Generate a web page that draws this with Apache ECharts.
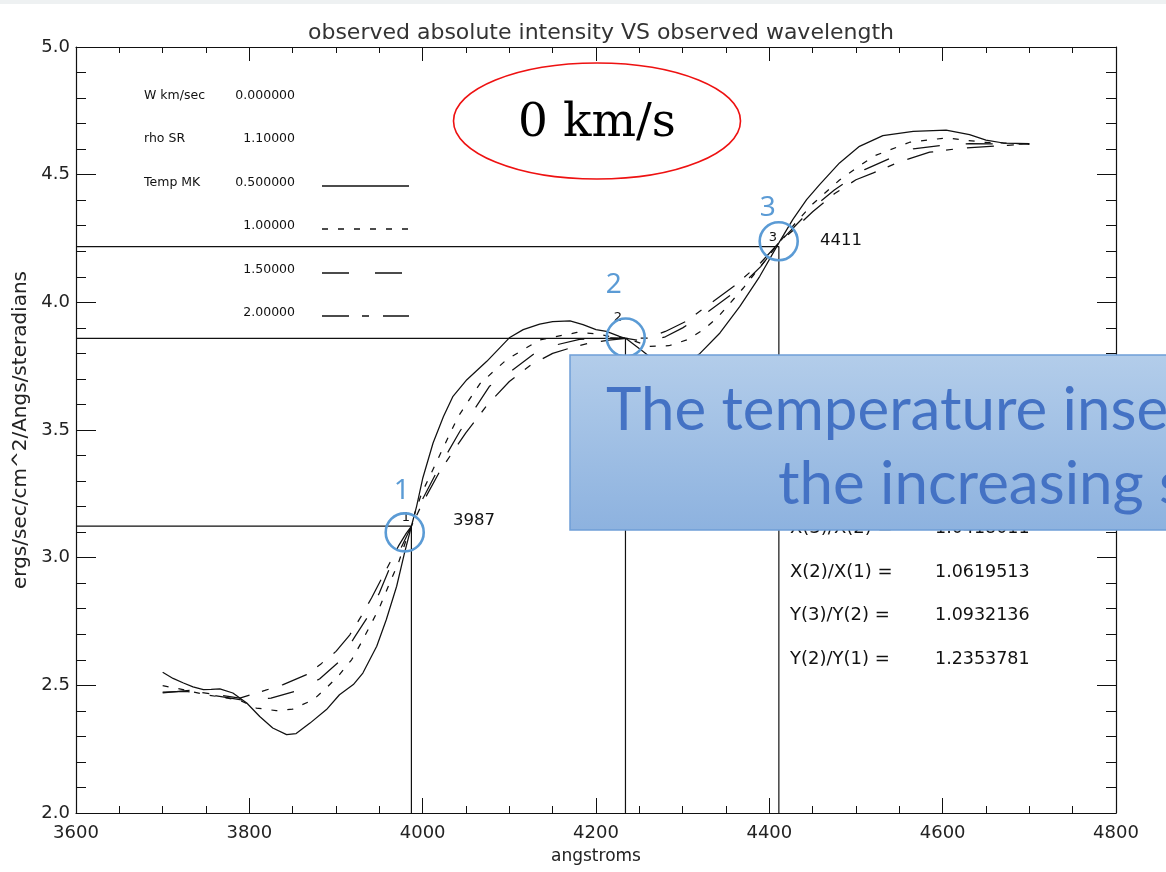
<!DOCTYPE html>
<html><head><meta charset="utf-8">
<script src="https://cdn.jsdelivr.net/npm/echarts@6/dist/echarts.min.js"></script>
<style>html,body{margin:0;padding:0;background:#fff}#c{width:1166px;height:872px}</style>
</head><body><div id="c"></div>
<script>
// ---- data ----
const xT05 = [3700,3712,3724,3735,3747,3756,3766,3781,3797,3812,3827,3843,3854,3870,3889,3904,3920,3931,3947,3958,3970,3979,3987,3993,4000,4012,4024,4035,4051,4074,4100,4116,4135,4150,4170,4185,4200,4212,4227,4235,4254,4270,4288,4305,4320,4343,4366,4389,4411,4427,4443,4458,4481,4504,4531,4566,4604,4631,4650,4670,4700];
const yT05 = [2.551,2.527,2.509,2.494,2.483,2.484,2.486,2.470,2.431,2.378,2.333,2.307,2.311,2.352,2.405,2.463,2.503,2.548,2.653,2.757,2.888,3.018,3.123,3.201,3.310,3.449,3.553,3.632,3.697,3.769,3.861,3.893,3.915,3.924,3.927,3.913,3.893,3.886,3.867,3.857,3.808,3.765,3.745,3.762,3.800,3.880,3.984,4.102,4.233,4.324,4.402,4.461,4.546,4.611,4.653,4.670,4.674,4.657,4.635,4.624,4.622];

const xT10 = [3700,3725,3750,3775,3790,3808,3831,3850,3874,3889,3904,3918,3929,3939,3950,3962,3972,3981,3987,3991,3999,4022,4041,4066,4097,4135,4178,4200,4220,4235,4262,4284,4305,4324,4340,4355,4370,4382,4396,4411,4430,4450,4481,4520,4562,4604,4647,4681,4700];
const yT10 = [2.499,2.482,2.463,2.450,2.440,2.411,2.401,2.407,2.444,2.490,2.542,2.600,2.666,2.731,2.803,2.901,2.979,3.070,3.123,3.175,3.253,3.418,3.553,3.681,3.776,3.853,3.882,3.877,3.864,3.859,3.828,3.830,3.853,3.893,3.940,3.998,4.056,4.108,4.167,4.233,4.310,4.385,4.479,4.572,4.627,4.644,4.627,4.622,4.622];

const xT15 = [3700,3727,3762,3789,3800,3825,3852,3881,3904,3922,3937,3950,3962,3974,3987,4000,4020,4043,4077,4100,4129,4150,4181,4210,4235,4260,4280,4300,4330,4360,4390,4411,4430,4450,4475,4510,4540,4566,4600,4631,4660,4700];
const yT15 = [2.473,2.476,2.459,2.444,2.441,2.450,2.476,2.525,2.594,2.692,2.770,2.862,2.960,3.031,3.123,3.230,3.360,3.495,3.671,3.725,3.800,3.830,3.855,3.862,3.859,3.845,3.865,3.900,3.965,4.040,4.140,4.233,4.300,4.370,4.440,4.520,4.565,4.601,4.615,4.622,4.620,4.620];

const xT20 = [3700,3731,3762,3789,3818,3839,3866,3883,3900,3916,3929,3941,3952,3962,3972,3981,3987,4000,4020,4050,4075,4100,4125,4150,4170,4193,4215,4235,4260,4280,4304,4330,4360,4390,4411,4430,4450,4475,4500,4520,4550,4585,4620,4646,4675,4700];
const yT20 = [2.470,2.480,2.463,2.450,2.480,2.503,2.542,2.585,2.633,2.698,2.770,2.842,2.914,2.979,3.045,3.095,3.123,3.215,3.340,3.490,3.600,3.690,3.755,3.800,3.821,3.841,3.852,3.859,3.860,3.886,3.926,3.990,4.065,4.155,4.233,4.290,4.355,4.425,4.480,4.507,4.550,4.588,4.603,4.609,4.615,4.620];

// marked points X(i), Y(i)
const pointX = [3987, 4234, 4411];
const pointY = [3.1235, 3.8587, 4.2184];
const pointLabels = ['1', '2', '3'];
const circleX = [3979.3, 4234.3, 4410.8];
const circleY = [3.099, 3.862, 4.239];

const xTicks = [3600, 3800, 4000, 4200, 4400, 4600, 4800];
const yTicks = [2.0, 2.5, 3.0, 3.5, 4.0, 4.5, 5.0];

const legendParams = [['W km/sec','0.000000'],['rho SR','1.10000'],['Temp MK','0.500000'],['','1.00000'],['','1.50000'],['','2.00000']];
const ratioNames = ['X(3)/X(2) =','X(2)/X(1) =','Y(3)/Y(2) =','Y(2)/Y(1) ='];
const ratioValues = ['1.0418011','1.0619513','1.0932136','1.2353781'];

// ---- build ----
const zip = (xs, ys) => xs.map((x, i) => [x, ys[i]]);
const INK = '#111';
const FONT = 'DejaVu Sans';

function curve(name, xs, ys, type) {
  return { name, type: 'line', data: zip(xs, ys), showSymbol: false, symbol: 'none',
    lineStyle: { color: INK, width: 1.25, type }, z: 3, silent: true };
}
function guide(i) {
  return { type: 'line', data: [[xTicks[0], pointY[i]], [pointX[i], pointY[i]], [pointX[i], yTicks[0]]],
    showSymbol: false, symbol: 'none', lineStyle: { color: INK, width: 1.2 }, z: 2, silent: true };
}

const labelOffsets = [[-3, -41], [-12, -53], [-11, -33]];
const circleSeries = {
  type: 'scatter', symbol: 'circle', symbolSize: 38, z: 6, silent: true,
  data: circleX.map((x, i) => ({ value: [x, circleY[i]],
    label: { show: true, formatter: pointLabels[i], position: 'inside', offset: labelOffsets[i],
      color: '#5b9bd5', fontSize: 28, fontFamily: 'Noto Sans', textBorderWidth: 0 } })),
  itemStyle: { color: 'rgba(0,0,0,0)', borderColor: '#5b9bd5', borderWidth: 2.6, opacity: 1 }
};

const dashes = [null, 'solid', [6, 10], [27, 26], [27, 13, 7, 14]];
const graphics = [];
// faint slide strip at the top
graphics.push({ type: 'rect', shape: { x: 0, y: 0, width: 1166, height: 4 }, style: { fill: '#eef1f2' }, z: 1 });
// legend block
const legY = [96, 139, 183, 226, 270, 313];
legendParams.forEach((p, i) => {
  if (p[0]) graphics.push({ type: 'text', style: { text: p[0], x: 144, y: legY[i], fill: INK, fontSize: 12.5, fontFamily: FONT, align: 'left', verticalAlign: 'middle' }, z: 5 });
  graphics.push({ type: 'text', style: { text: p[1], x: 295, y: legY[i], fill: INK, fontSize: 12.5, fontFamily: FONT, align: 'right', verticalAlign: 'middle' }, z: 5 });
});
const legLineStyles = [[], [6, 10], [27, 26], [27, 13, 7, 14]];
legLineStyles.forEach((d, i) => {
  const y = legY[2 + i] + 3;
  graphics.push({ type: 'line', shape: { x1: 322, y1: y, x2: 409, y2: y }, style: { stroke: INK, lineWidth: 1.3, lineDash: d.length ? d : null }, z: 5 });
});
// point annotations
graphics.push({ type: 'text', style: { text: '3987', x: 453, y: 521, fill: INK, fontSize: 16.5, fontFamily: FONT, align: 'left', verticalAlign: 'middle' }, z: 5 });
graphics.push({ type: 'text', style: { text: '4411', x: 820, y: 241, fill: INK, fontSize: 16.5, fontFamily: FONT, align: 'left', verticalAlign: 'middle' }, z: 5 });
[[406, 518], [618, 318], [773, 238]].forEach((p, i) => {
  graphics.push({ type: 'text', style: { text: pointLabels[i], x: p[0], y: p[1], fill: INK, fontSize: 13, fontFamily: FONT, align: 'center', verticalAlign: 'middle' }, z: 5 });
});
// ratio block
ratioNames.forEach((n, i) => {
  const y = 528.5 + i * 43.6;
  graphics.push({ type: 'text', style: { text: n, x: 790, y, fill: INK, fontSize: 18, fontFamily: FONT, align: 'left', verticalAlign: 'middle' }, z: 5 });
  graphics.push({ type: 'text', style: { text: ratioValues[i], x: 935, y, fill: INK, fontSize: 17.5, fontFamily: FONT, align: 'left', verticalAlign: 'middle' }, z: 5 });
});
// red ellipse
graphics.push({ type: 'ellipse', shape: { cx: 597, cy: 121, rx: 143.5, ry: 58 }, style: { fill: '#fff', stroke: '#ee1111', lineWidth: 1.6 }, z: 20 });
graphics.push({ type: 'text', style: { text: '0 km/s', x: 597, y: 124, fill: '#000', fontSize: 47, fontFamily: 'DejaVu Serif', align: 'center', verticalAlign: 'middle' }, z: 21 });
// blue overlay box
graphics.push({ type: 'rect', shape: { x: 570, y: 355, width: 620, height: 175 },
  style: { fill: new echarts.graphic.LinearGradient(0, 0, 0, 1, [{ offset: 0, color: '#b3cdea' }, { offset: 1, color: '#8db2df' }]),
    stroke: '#6f9fd8', lineWidth: 1.5 }, z: 30 });
graphics.push({ type: 'text', style: { text: 'The temperature inse', x: 606, y: 381, fill: '#4472c4', fontSize: 60, fontFamily: 'Lato', align: 'left', verticalAlign: 'top' }, z: 31 });
graphics.push({ type: 'text', style: { text: 'the increasing s', x: 778, y: 455, fill: '#4472c4', fontSize: 60, fontFamily: 'Lato', align: 'left', verticalAlign: 'top' }, z: 31 });

const axisCommon = {
  type: 'value', splitLine: { show: false },
  axisLine: { show: true, onZero: false, lineStyle: { color: INK, width: 1.2 } },
};

const option = {
  animation: false,
  backgroundColor: '#fff',
  title: { text: 'observed absolute intensity VS observed wavelength', left: 596, textAlign: 'center', top: 17,
    textStyle: { fontSize: 22, fontWeight: 'normal', color: '#333', fontFamily: FONT } },
  grid: { left: 76, right: 50, top: 47, bottom: 59, containLabel: false },
  xAxis: [
    Object.assign({}, axisCommon, { position: 'bottom', min: xTicks[0], max: xTicks[xTicks.length - 1], interval: 200,
      name: 'angstroms', nameLocation: 'middle', nameGap: 35,
      nameTextStyle: { fontSize: 17, color: '#222', fontFamily: FONT },
      axisTick: { show: true, inside: true, length: 15, lineStyle: { color: INK } },
      minorTick: { show: true, splitNumber: 4, length: 7, lineStyle: { color: INK } },
      axisLabel: { fontSize: 18, color: '#222', fontFamily: FONT, margin: 11, formatter: v => String(v) } }),
    Object.assign({}, axisCommon, { position: 'top', min: xTicks[0], max: xTicks[xTicks.length - 1], interval: 200,
      axisTick: { show: true, inside: true, length: 14, lineStyle: { color: INK } },
      minorTick: { show: true, splitNumber: 4, length: 6, lineStyle: { color: INK } },
      axisLabel: { show: false } })
  ],
  yAxis: [
    Object.assign({}, axisCommon, { position: 'left', min: yTicks[0], max: yTicks[yTicks.length - 1], interval: 0.5,
      name: 'ergs/sec/cm^2/Angs/steradians', nameLocation: 'middle', nameGap: 44, nameRotate: 90,
      nameTextStyle: { fontSize: 20, color: '#222', fontFamily: FONT },
      axisTick: { show: true, inside: true, length: 20, lineStyle: { color: INK } },
      minorTick: { show: true, splitNumber: 5, length: 10, lineStyle: { color: INK } },
      axisLabel: { fontSize: 18, color: '#222', fontFamily: FONT, margin: 6, formatter: v => v.toFixed(1) } }),
    Object.assign({}, axisCommon, { position: 'right', min: yTicks[0], max: yTicks[yTicks.length - 1], interval: 0.5,
      axisTick: { show: true, inside: true, length: 19, lineStyle: { color: INK } },
      minorTick: { show: true, splitNumber: 5, length: 10, lineStyle: { color: INK } },
      axisLabel: { show: false } })
  ],
  series: [
    curve('T 0.5', xT05, yT05, dashes[1]),
    curve('T 1.0', xT10, yT10, dashes[2]),
    curve('T 1.5', xT15, yT15, dashes[3]),
    curve('T 2.0', xT20, yT20, dashes[4]),
    guide(0), guide(1), guide(2),
    circleSeries
  ],
  graphic: graphics
};

const chart = echarts.init(document.getElementById('c'), null, { renderer: 'canvas' });
chart.setOption(option);
</script>
</body></html>
